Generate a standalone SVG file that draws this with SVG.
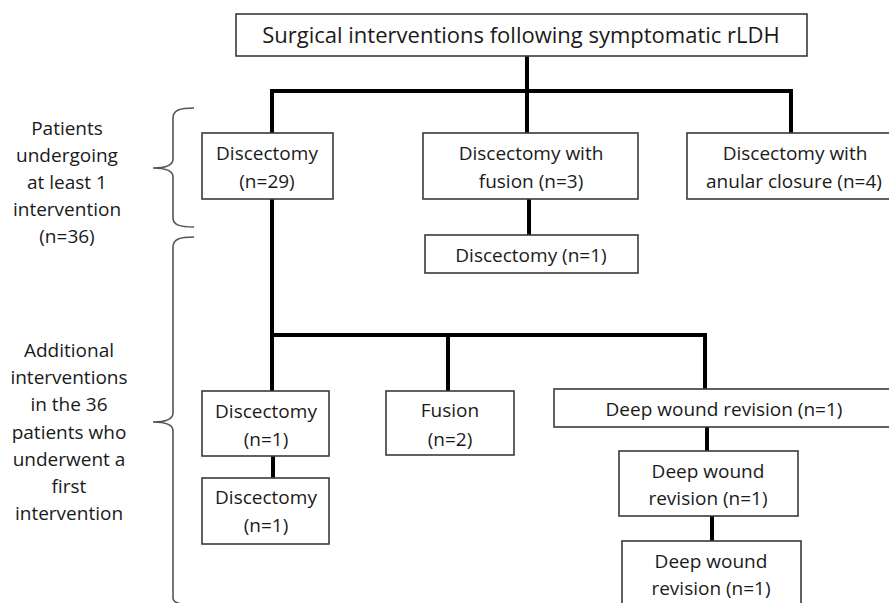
<svg xmlns="http://www.w3.org/2000/svg" width="889" height="603" viewBox="0 0 889 603">
<style>
.box{fill:#fff;stroke:#3a3a3a;stroke-width:1.6}
.t{font-family:"Open Sans","Liberation Sans",sans-serif;font-size:19px;fill:#1a1a1a;text-anchor:middle}
.title{font-size:22px}
.con{fill:none;stroke:#000;stroke-width:4;stroke-linecap:square;stroke-linejoin:miter}
.brace{fill:none;stroke:#555;stroke-width:1.6}
</style>
<rect width="889" height="603" fill="#fff"/>
<g id="connectors">
<path class="con" d="M527,57 V91 M272,91 H791 M272,91 V133 M527,91 V133 M791,91 V133"/>
<path class="con" d="M529,199 V235"/>
<path class="con" d="M272,199 V391 M272,335 H705 M448,335 V391 M705,335 V389"/>
<path class="con" d="M273,456 V478"/>
<path class="con" d="M707,427 V451"/>
<path class="con" d="M712,516 V541"/>
</g>
<g id="braces">
<path class="brace" d="M194,108 C180,108 173,110 173,118 L173,159 C173,165 166,168 153,168 C166,168 173,171 173,177 L173,218 C173,225 180,227 194,227"/>
<path class="brace" d="M194,237 C180,237 173,239 173,247 L173,413 C173,419 166,422 153,422 C166,422 173,425 173,431 L173,598 C173,603 180,605 194,605"/>
</g>
<g id="label-first">
<text class="t" x="67" y="135">Patients</text>
<text class="t" x="67" y="162">undergoing</text>
<text class="t" x="67" y="189">at least 1</text>
<text class="t" x="67" y="216">intervention</text>
<text class="t" x="67" y="243">(n=36)</text>
</g>
<g id="label-additional">
<text class="t" x="69" y="357">Additional</text>
<text class="t" x="69" y="384">interventions</text>
<text class="t" x="69" y="411">in the 36</text>
<text class="t" x="69" y="439">patients who</text>
<text class="t" x="69" y="466">underwent  a</text>
<text class="t" x="69" y="493">first</text>
<text class="t" x="69" y="520">intervention</text>
</g>
<g id="root">
<rect class="box" x="236" y="14" width="571" height="42"/>
<text class="t title" x="521" y="43">Surgical interventions following symptomatic rLDH</text>
</g>
<g id="discectomy-29">
<rect class="box" x="202" y="133" width="131" height="66"/>
<text class="t" x="267" y="160">Discectomy</text>
<text class="t" x="267" y="188">(n=29)</text>
</g>
<g id="discectomy-fusion">
<rect class="box" x="423" y="133" width="215" height="66"/>
<text class="t" x="531" y="160">Discectomy with</text>
<text class="t" x="531" y="188">fusion (n=3)</text>
</g>
<g id="discectomy-anular">
<rect class="box" x="687" y="133" width="214" height="66"/>
<text class="t" x="795" y="160">Discectomy with</text>
<text class="t" x="794" y="188">anular closure (n=4)</text>
</g>
<g id="discectomy-after-fusion">
<rect class="box" x="425" y="235" width="213" height="38"/>
<text class="t" x="531" y="262">Discectomy (n=1)</text>
</g>
<g id="discectomy-1a">
<rect class="box" x="202" y="391" width="127" height="65"/>
<text class="t" x="266" y="418">Discectomy</text>
<text class="t" x="266" y="446">(n=1)</text>
</g>
<g id="discectomy-1b">
<rect class="box" x="202" y="478" width="127" height="66"/>
<text class="t" x="266" y="504">Discectomy</text>
<text class="t" x="266" y="532">(n=1)</text>
</g>
<g id="fusion-2">
<rect class="box" x="386" y="391" width="128" height="64"/>
<text class="t" x="450" y="417">Fusion</text>
<text class="t" x="450" y="446">(n=2)</text>
</g>
<g id="deep-wound-1">
<rect class="box" x="554" y="389" width="340" height="38"/>
<text class="t" x="724" y="416">Deep wound revision (n=1)</text>
</g>
<g id="deep-wound-2">
<rect class="box" x="619" y="451" width="179" height="65"/>
<text class="t" x="708" y="478">Deep wound</text>
<text class="t" x="708" y="505">revision (n=1)</text>
</g>
<g id="deep-wound-3">
<rect class="box" x="622" y="541" width="179" height="70"/>
<text class="t" x="711" y="568">Deep wound</text>
<text class="t" x="711" y="595">revision (n=1)</text>
</g>
</svg>
